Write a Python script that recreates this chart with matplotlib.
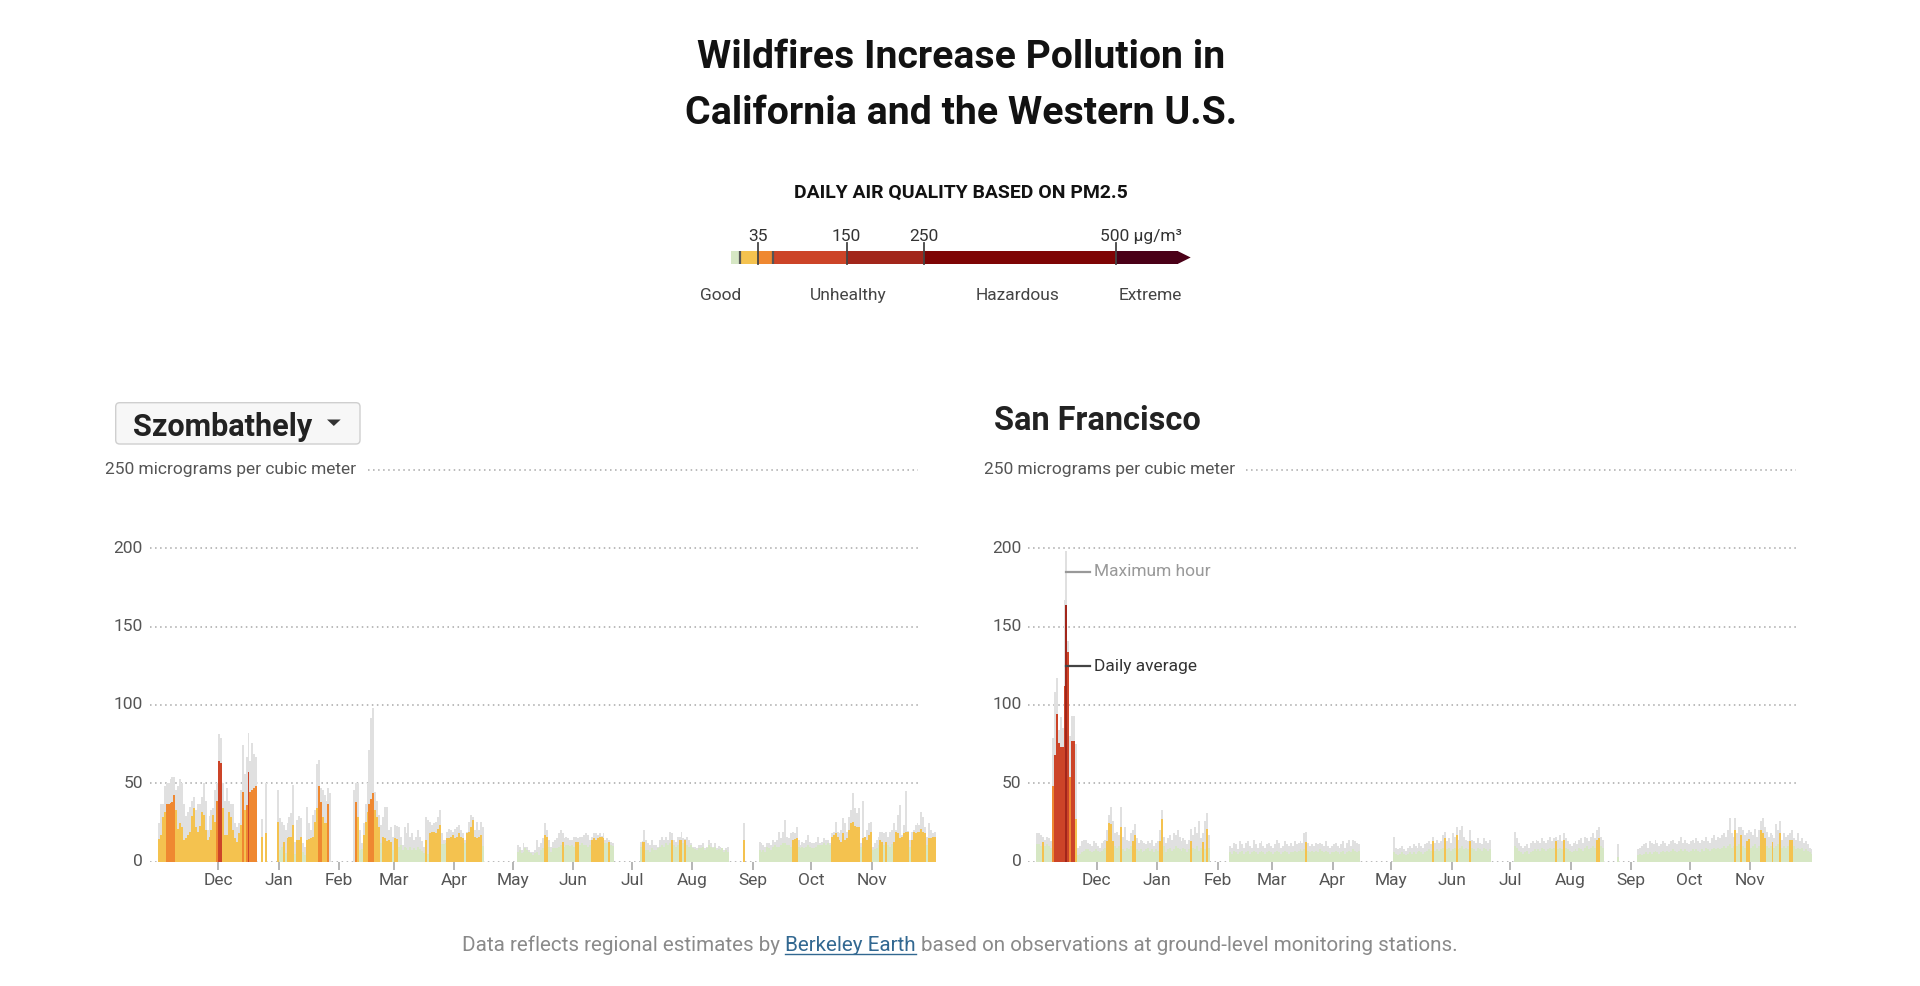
import numpy as np
import matplotlib
matplotlib.use('Agg')
import matplotlib.pyplot as plt
from matplotlib.patches import FancyBboxPatch, Polygon, Rectangle

plt.rcParams['font.family'] = ['Roboto', 'DejaVu Sans']

_ = None  # no data that day

# daily values, day 0 = Oct 31 2018 ... day 398 = Dec 3 2019 (µg/m³)
szo_avg = [
    14.5, 17, 28.7, 32, 37, 36.6, 37.7, 38, 42.5, 33,
    21, 24.5, 22, 14, 15, 17, 19, 29, 34, 22,
    19, 22.8, 32, 30, 20, 14, 16, 20, 30, 25.5,
    39, 64, 63, 34, 17, 17, 32, 28.7, 20, 15,
    12.8, 18, 23.4, 44.7, 33, 36, 57, 44.7, 45.7, 46.8,
    48, _, _, 16, _, 18, _, _, _, _,
    _, 25.5, 7.4, 9.6, 12.8, 5.3, 15, 16, 16, 23.4,
    5, 14, 14, 16, 6, 4, 14, 14.5, 15, 16,
    25.5, 34, 48.3, 38, 28.7, 25, 24.5, 36.6, _, _,
    _, _, _, _, _, _, _, _, _, _,
    _, 38, 28.7, 7.5, 8, 17, 25.5, 32, 37, 40,
    43.6, 33, 28.7, 22, 11.7, 16, 15, 13, 14, 12.8,
    7.4, 15, 14.5, 9.6, 10.6, 7.4, 9.6, 8.5, 7.4, 9.6,
    7.4, 8.5, 7.4, 9.6, 8, 7, 5.3, 14, 5, 18,
    19, 19, 18, 20.6, 23.4, 11, 11, 11.7, 15, 15,
    16, 17, 15, 16, 18, 16, 15, 11.7, 18, 19,
    22, 26.6, 16, 15, 16, 17, 10, _, _, _,
    _, _, _, _, _, _, _, _, _, _,
    _, _, _, _, 6.4, 7.4, 5.3, 6.4, 8.5, 7.4,
    6.4, 5.3, 4.3, 5.3, 6.4, 4, 7.4, 8.5, 17, 16,
    9.6, 6.4, 8.5, 9, 8.5, 9.6, 10.6, 12.8, 9.6, 10.6,
    10.6, 10, 10.6, 9.6, 12.8, 12.8, 10.6, 11.7, 10.6, 10.6,
    9.6, 10.6, 13.8, 15, 13.8, 15, 16, 16, 15, 11.7,
    11.7, 12.8, 10.6, 10, _, _, _, _, _, _,
    _, _, _, _, _, _, _, 9.6, 12.8, 12.8,
    7.4, 7.4, 6.4, 8.5, 7.4, 7.4, 8.5, 9.6, 10.6, 9.6,
    11.7, 10.6, 11.7, 13.8, 10.6, 9.6, 10.6, 13.8, 13.8, 11.7,
    13.8, 10.6, 9.6, 10.6, 8.5, 7.9, 7.4, 8.5, 8.5, 9.6,
    7.4, 8.5, 10.6, 9.6, 8.5, 9.6, 7.4, 8, 7.4, 8.5,
    6.4, 7.4, 6.4, _, _, _, _, _, _, _,
    13.8, _, _, _, _, _, _, _, 7.4, 6.4,
    7.4, 6.4, 9.6, 8.5, 7.4, 9.6, 10.6, 9.6, 9.6, 10.6,
    11.7, 11.7, 10.6, 10.6, 9.6, 13.8, 14.3, 15, 9.6, 8.5,
    9.6, 8.5, 9.6, 10.6, 9.6, 8.5, 9, 9.6, 10.6, 10.6,
    10.6, 11.7, 10.6, 11.7, 10.6, 16, 17, 18, 16, 13.8,
    12.8, 18, 13.8, 15, 20, 24.5, 25.5, 22.8, 22, 22,
    9.6, 15, 16, 13.8, 17, 19, 7.4, 8, 8.5, 10.6,
    13.8, 12.8, 10.6, 12.8, 10.6, 9.6, 11, 12.8, 19, 18,
    15, 16, 18, 19, 19, 9.6, 13.8, 19, 18.5, 19,
    19, 21, 19, 18, 10.6, 15, 15, 16, 16,
]
szo_max = [
    25, 37, 37, 48, 50, 50, 53, 54, 54, 46,
    48, 53, 50, 37, 29, 32, 35, 39, 41.5, 33,
    37, 37, 41.5, 50, 39, 20, 29, 33, 34, 46,
    50, 81.5, 79, 50, 39, 47, 39, 37, 37, 24.5,
    22, 24.5, 46, 74.5, 56, 67, 82, 64, 75.5, 69,
    67, _, _, 27, _, 50, _, _, _, _,
    _, 46, 27.7, 25.5, 23.4, 20, 24.5, 28.7, 31, 49,
    12.8, 26.6, 29, 27.7, 12, 9.6, 35, 24.5, 20, 30,
    33, 62, 65, 47, 46, 42.5, 39, 47, 43.6, _,
    _, _, _, _, _, _, _, _, _, _,
    46, 50, 50, 20, 12, 24.5, 37, 50, 71, 91.5,
    98, 44.7, 39, 30, 23.4, 28.7, 35, 35, 20, 22,
    16, 23.4, 22.8, 22, 16, 10.6, 22, 18, 24.5, 16,
    18, 13.8, 16, 20, 16, 13, 9.6, 28.7, 26.6, 25.5,
    23.4, 24.5, 25.5, 28.7, 33, 18, 13.8, 14, 19, 21,
    20, 19, 21, 22, 23.4, 20, 18, 14, 19, 25.5,
    30, 28.7, 20, 25.5, 20, 25.5, 22, _, _, _,
    _, _, _, _, _, _, _, _, _, _,
    _, _, _, _, 10.6, 9.6, 7.4, 11.7, 9.6, 9.6,
    7.4, 6.4, 6.4, 7.4, 13.8, 9.6, 11.7, 15, 24.5, 20,
    13.8, 9.6, 12.8, 14, 15, 18, 20, 18, 15, 16,
    15, 14, 13.8, 16, 16, 15, 16, 16, 17, 18,
    17, 13.8, 16, 18, 18, 17, 18, 16.5, 18, 13.8,
    15, 13.8, 12.8, 12, _, _, _, _, _, _,
    _, _, _, _, _, _, _, 12.8, 13.5, 20,
    13.8, 11.7, 10.6, 13.8, 10.6, 10.6, 9.6, 13.8, 16, 13.8,
    16, 13.8, 19, 18, 13.8, 12.8, 16, 16, 19, 15,
    14.5, 16, 13.8, 11.7, 9.6, 9.6, 8.5, 10.6, 10.6, 11.7,
    8.5, 9.6, 13.8, 11.7, 9.6, 11.7, 8.5, 10, 9.6, 9,
    7.4, 8.5, 9.6, _, _, _, _, _, _, _,
    24.5, _, _, _, _, _, _, _, 12.8, 11.7,
    10.6, 9.6, 11.7, 11.7, 10.6, 13.8, 12.8, 13.8, 19, 15,
    19, 26.6, 16, 15, 18, 19, 18, 22, 13.8, 10.6,
    12.8, 11.7, 13.8, 17, 12.8, 11.7, 12, 12.8, 16, 11.7,
    12.8, 15, 13.8, 13.8, 11.7, 18, 19, 25.5, 19, 18,
    20, 27.7, 24.5, 19, 28.7, 33, 43.6, 34, 31, 34,
    11.7, 39, 16, 20, 24.5, 25.5, 9.6, 11.7, 13.8, 16,
    19, 19, 18, 19, 16, 19, 20, 24.5, 20, 30,
    36, 17, 23.4, 45, 19.5, 13.8, 19, 20, 23.4, 24.5,
    23.4, 32, 28.7, 22, 16, 24.5, 20, 18, 19,
]
sf_avg = [
    11, 11, 10, 12.5, 10, 11, 10, 9, 48, 68,
    94, 76, 73, 73, 112, 164, 134, 54, 77, 77,
    27, 4, 5, 6, 7, 8, 8, 7, 6, 7,
    8, 7, 6, 7, 8, 9, 13, 24.5, 24, 13,
    10, 9, 10, 22, 8, 7, 9, 8, 10, 13,
    17, 8, 7, 8, 6, 7, 8, 9, 7, 8,
    6, 8, 7, 13, 27, 10, 6, 8, 9, 7,
    8, 10, 9, 8, 7, 9, 8, 6, 8, 13,
    9, 8, 10, 7, 9, 12.8, 8, 20.6, 9, _,
    _, _, _, _, _, _, _, _, _, 6,
    5, 7, 6, 5, 6, 7, 5, 6, 7, 5,
    6, 7, 6, 5, 6, 7, 6, 5, 6, 7,
    6, 5, 6, 7, 6, 5, 6, 7, 6, 5,
    6, 6, 7, 6, 7, 8, 7, 8, 12.5, 7,
    6, 7, 6, 7, 6, 8, 7, 6, 7, 6,
    5, 6, 6, 7, 6, 5, 6, 7, 5, 6,
    7, 6, 8, 7, 6, 7, _, _, _, _,
    _, _, _, _, _, _, _, _, _, _,
    _, _, _, 6, 5, 4, 5, 6, 5, 4,
    5, 6, 5, 6, 5, 6, 7, 6, 5, 6,
    7, 8, 7, 13, 7, 8, 7, 8, 9, 15,
    8, 9, 7, 8, 9, 17, 8, 9, 10, 8,
    9, 8, 13, 9, 8, 7, 9, 8, 7, 9,
    8, 7, 8, _, _, _, _, _, _, _,
    _, _, _, _, _, 10, 9, 7, 6, 5,
    6, 7, 5, 6, 7, 8, 7, 8, 7, 9,
    8, 7, 8, 9, 8, 9, 13, 8, 9, 8,
    14, 9, 8, 7, 6, 7, 8, 7, 9, 8,
    7, 9, 10, 8, 9, 10, 9, 14, 15, 10,
    9, _, _, _, _, _, _, _, 3, _,
    _, _, _, _, _, _, _, _, 4, 5,
    4, 5, 6, 5, 6, 5, 6, 7, 6, 5,
    6, 7, 6, 7, 6, 7, 8, 7, 6, 7,
    8, 7, 8, 7, 6, 7, 8, 7, 8, 7,
    6, 8, 7, 9, 8, 7, 8, 9, 8, 9,
    8, 9, 10, 9, 10, 11, 9, 10, 20, 10,
    11, 17, 10, 9, 13, 14.5, 9, 10, 11, 9,
    10, 20, 18, 15, 10, 9, 10, 12.5, 9, 10,
    11, 18, 9, 10, 9, 10, 14, 14, 10, 8,
    9, 8, 9, 7, 8, 7, 6, 5, _,
]
sf_max = [
    18, 18, 17, 16, 14, 16, 15, 13, 79, 108,
    117, 84, 92, 85, 167, 198, 141, 80, 93, 93,
    75, 9, 10, 13, 14, 14, 12, 11, 10, 13,
    12, 10, 9, 12, 13, 14, 20, 30, 35, 26,
    18, 19, 17, 35, 16, 22, 14, 13, 18, 20,
    24, 15, 12, 14, 13, 12, 11, 13, 12, 14,
    10, 12, 13, 20, 33, 16, 12, 15, 17, 14,
    18, 17, 20, 16, 13, 15, 14, 11, 14, 21,
    17, 22, 18, 26, 15, 18, 26, 31, 17, _,
    _, _, _, _, _, _, _, _, _, 10,
    9, 12, 11, 8, 13, 11, 9, 12, 13, 10,
    9, 14, 11, 9, 12, 13, 10, 9, 11, 12,
    10, 9, 11, 14, 12, 9, 10, 13, 11, 10,
    12, 10, 13, 11, 12, 13, 12, 18, 19, 12,
    10, 11, 10, 12, 11, 12, 11, 10, 13, 10,
    9, 10, 11, 12, 10, 9, 11, 13, 9, 12,
    14, 10, 14, 13, 12, 11, _, _, _, _,
    _, _, _, _, _, _, _, _, _, _,
    _, _, _, 16, 9, 8, 9, 10, 8, 7,
    9, 10, 9, 11, 10, 9, 12, 10, 9, 11,
    12, 13, 11, 16, 12, 14, 12, 13, 17, 19,
    13, 15, 12, 18, 16, 22, 14, 20, 23, 16,
    14, 13, 20, 14, 13, 12, 15, 12, 11, 15,
    13, 12, 14, _, _, _, _, _, _, _,
    _, _, _, _, _, 19, 15, 12, 10, 9,
    10, 11, 9, 12, 13, 12, 14, 13, 12, 15,
    13, 12, 14, 16, 13, 15, 16, 14, 17, 13,
    18, 15, 13, 11, 10, 12, 13, 11, 14, 15,
    12, 16, 15, 13, 16, 18, 15, 20, 22, 16,
    14, _, _, _, _, _, _, _, 11, _,
    _, _, _, _, _, _, _, _, 8, 9,
    10, 11, 12, 9, 13, 12, 11, 14, 12, 10,
    11, 13, 12, 10, 11, 13, 14, 12, 11, 13,
    16, 12, 14, 12, 11, 13, 14, 12, 15, 13,
    12, 14, 13, 16, 13, 12, 15, 17, 14, 16,
    15, 17, 18, 16, 20, 28, 18, 16, 28, 18,
    22, 22, 20, 17, 18, 20, 19, 17, 21, 16,
    20, 26, 28, 22, 19, 16, 18, 17, 15, 24,
    20, 26, 14, 18, 16, 17, 18, 20, 15, 14,
    18, 13, 15, 12, 13, 11, 9, 8, _,
]

months = ['Dec', 'Jan', 'Feb', 'Mar', 'Apr', 'May', 'Jun', 'Jul', 'Aug', 'Sep', 'Oct', 'Nov']
month_start = [31, 62, 93, 121, 152, 182, 213, 243, 274, 305, 335, 366]
y_ticks = [0, 50, 100, 150, 200]

# air quality scale
aq_breaks = [0, 12, 35, 55, 150, 250, 500, 580]
aq_colors = ['#d6e7c4', '#f4c24f', '#ef8831', '#cc4428', '#a2261b', '#7e0404', '#4a0017']
aq_ticks = [35, 150, 250]
aq_names = ['Good', 'Unhealthy', 'Hazardous', 'Extreme']
aq_name_pos = [-14, 152, 372, 544]

W, H = 1920, 986
fig = plt.figure(figsize=(W / 100, H / 100), dpi=100)
fig.patch.set_facecolor('white')

# pixel geometry of the two panels
DAY = 1.9505      # px per day
VAL = 1.568       # px per µg/m³
BASE = 861.7      # y pixel of zero
GRID0, GRID1 = -4.0, 389.7   # gridline extent in days
DOTS = (0, (1, 2.3))

ov = fig.add_axes([0, 0, 1, 1])
ov.set_xlim(0, W)
ov.set_ylim(H, 0)
ov.axis('off')
rend = fig.canvas.get_renderer()


def fit_width(t, target):
    w = t.get_window_extent(rend).width
    t.set_fontsize(t.get_fontsize() * target / w)


def panel(x0, avg, mx):
    left, right, top = x0 - 70, x0 + 790, 430
    ax = fig.add_axes([left / W, 1 - BASE / H, (right - left) / W, (BASE - top) / H])
    ax.set_xlim((left - x0) / DAY, (right - x0) / DAY)
    ax.set_ylim(0, (BASE - top) / VAL)
    ax.patch.set_visible(False)
    for s in ax.spines.values():
        s.set_visible(False)

    for v in y_ticks:
        ax.plot([GRID0, GRID1], [v, v], color='#a8a8a8', lw=1.1, ls=DOTS, zorder=0)
        ax.text(-7.6, v, str(v), ha='right', va='center', fontsize=12.5, color='#555555')
    ax.plot([(368 - 157.8) / DAY, GRID1], [250, 250], color='#a8a8a8', lw=1.1,
            ls=DOTS, zorder=0)
    ax.text(-26.9, 250, '250 micrograms per cubic meter', ha='left', va='center',
            fontsize=12.5, color='#555555')

    avg = np.array(avg, dtype=float)
    mx = np.array(mx, dtype=float)
    days = np.arange(len(avg))
    ok = ~np.isnan(mx)
    ax.bar(days[ok] + 0.5, mx[ok], width=1.0, color='#e0e0e0', lw=0, zorder=1)
    ok = ~np.isnan(avg)
    cols = [aq_colors[i] for i in np.digitize(avg[ok], aq_breaks[1:-1])]
    ax.bar(days[ok] + 0.5, avg[ok], width=1.0, color=cols, lw=0, zorder=2)

    ax.set_xticks(month_start)
    ax.set_xticklabels(months)
    ax.tick_params(axis='x', length=6, width=1.3, color='#b0b0b0', labelsize=12.5,
                   labelcolor='#555555', pad=2)
    ax.tick_params(axis='y', left=False, labelleft=False)
    return ax


ax_l = panel(157.8, szo_avg, szo_max)
ax_r = panel(1036.2, sf_avg, sf_max)

# annotations on the San Francisco peak
peak = int(np.nanargmax(np.array(sf_max, dtype=float))) + 0.5
ax_r.plot([peak, 27.6], [185, 185], color='#999999', lw=1.6, zorder=3)
ax_r.text(29.6, 185, 'Maximum hour', ha='left', va='center', fontsize=12.5, color='#999999')
ax_r.plot([peak, 27.6], [124.5, 124.5], color='#444444', lw=1.6, zorder=3)
ax_r.text(29.6, 124.5, 'Daily average', ha='left', va='center', fontsize=12.5, color='#333333')

# title
for txt, base, wid in [('Wildfires Increase Pollution in', 68.5, 527),
                       ('California and the Western U.S.', 124.5, 552)]:
    t = ov.text(961, base, txt, ha='center', va='baseline', fontsize=28,
                fontweight='bold', color='#121212')
    fit_width(t, wid)

t = ov.text(961, 198.3, 'DAILY AIR QUALITY BASED ON PM2.5', ha='center', va='baseline',
            fontsize=13.5, fontweight='bold', color='#121212')
fit_width(t, 334)

# colour scale
cb = fig.add_axes([731 / W, 1 - 264 / H, 462 / W, 13 / H])
cb.set_xlim(0, 600)
cb.set_ylim(0, 1)
cb.axis('off')
for a, b, c in zip(aq_breaks[:-1], aq_breaks[1:], aq_colors):
    cb.add_patch(Rectangle((a, 0), b - a, 1, color=c, lw=0))
cb.add_patch(Polygon([(aq_breaks[-1], 0), (597, 0.5), (aq_breaks[-1], 1)],
                     closed=True, color=aq_colors[-1], lw=0))
for v in [12, 55]:
    cb.plot([v, v], [0, 1], color='#555555', lw=1.6)
for v in aq_ticks + [500]:
    cb.plot([v, v], [0, 1.62], color='#444444', lw=1.3, clip_on=False)
for v in aq_ticks:
    cb.text(v, 1.79, str(v), ha='center', va='baseline', fontsize=12.5, color='#333333')
cb.text(479, 1.79, '500 µg/m³', ha='left', va='baseline', fontsize=12.5, color='#333333')
for name, x in zip(aq_names, aq_name_pos):
    cb.text(x, -2.77, name, ha='center', va='baseline', fontsize=12.5, color='#444444')

# city selector and panel titles
ov.add_patch(FancyBboxPatch((115.7, 402.7), 244.3, 41.3,
                            boxstyle='round,pad=0,rounding_size=4',
                            fc='#f7f7f7', ec='#cfcfcf', lw=1))
t = ov.text(132.7, 436, 'Szombathely', ha='left', va='baseline', fontsize=21,
            fontweight='bold', color='#222222')
fit_width(t, 179)
ov.add_patch(Polygon([(327, 419.5), (340.7, 419.5), (333.8, 426)], closed=True,
                     color='#333333', lw=0))
t = ov.text(994, 430, 'San Francisco', ha='left', va='baseline', fontsize=21,
            fontweight='bold', color='#222222')
fit_width(t, 207)

# footer with link
pre = 'Data reflects regional estimates by'
link = 'Berkeley Earth'
post = 'based on observations at ground-level monitoring stations.'
full = ov.text(0, 0, ' '.join([pre, link, post]), fontsize=13)
fit_width(full, 1000)
fs = full.get_fontsize()
wf = full.get_window_extent(rend).width
full.remove()


def width_of(s):
    t = ov.text(0, 0, s, fontsize=fs)
    w = t.get_window_extent(rend).width
    t.remove()
    return w


sp = width_of('a a') - width_of('aa')
x = 960 - wf / 2
ybase = 951
ov.text(x, ybase, pre, fontsize=fs, color='#8a8a8a', va='baseline')
x += width_of(pre) + sp
wl = width_of(link)
ov.text(x, ybase, link, fontsize=fs, color='#326891', va='baseline')
ov.plot([x, x + wl], [ybase + 3, ybase + 3], color='#326891', lw=1)
x += wl + sp
ov.text(x, ybase, post, fontsize=fs, color='#8a8a8a', va='baseline')

fig.savefig('out.png', dpi=100, facecolor='white')
